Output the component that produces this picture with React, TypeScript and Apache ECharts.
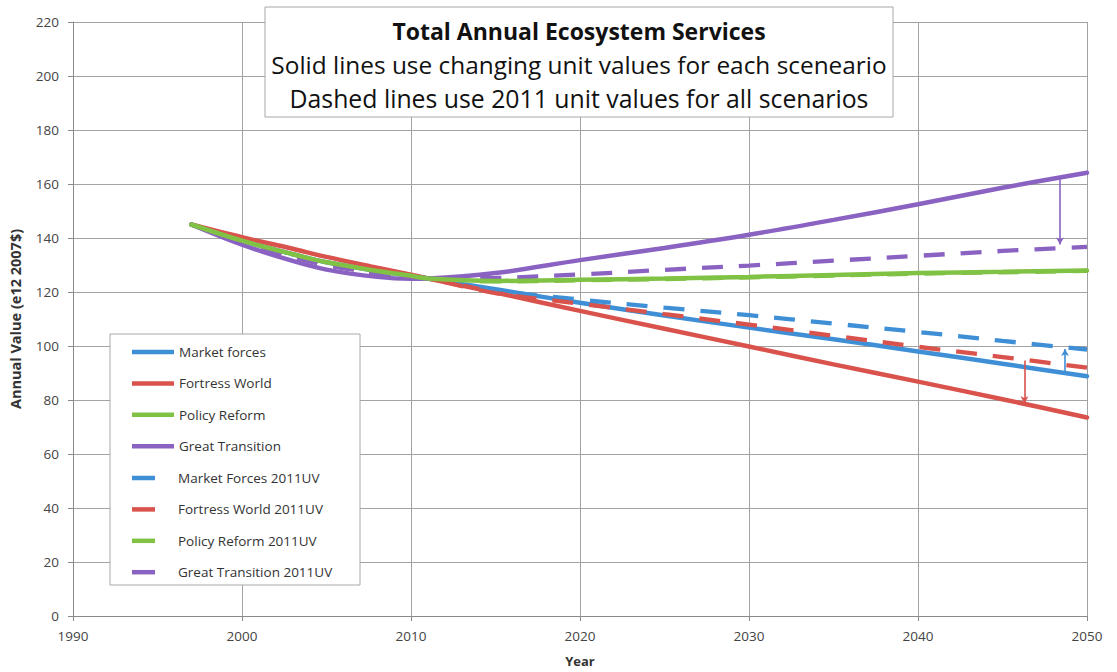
import React, { useEffect, useRef } from "react";
import * as echarts from "echarts";

const years = [1997, 2000, 2003, 2005, 2008, 2010, 2011, 2015, 2020, 2025, 2030, 2035, 2040, 2045, 2050];

const marketForces = [145, 139, 134, 131, 127.8, 126, 125, 121, 116, 111.3, 106.8, 102.5, 98, 93.4, 88.8];
const fortressWorld = [145, 140.3, 136, 133, 129, 126.4, 125, 119.8, 113, 106.4, 99.8, 93.2, 86.8, 80.3, 73.5];
const policyReform = [145, 139, 134, 131, 127.8, 126, 125, 124.1, 124.5, 125, 125.6, 126.3, 127, 127.5, 128];
const greatTransition = [145, 137.5, 131.5, 128.3, 125.6, 124.9, 125, 127, 131.8, 136.3, 141.2, 146.7, 152.5, 158.6, 164.2];

const marketForcesUV = [145, 138.5, 133.3, 130.2, 127.2, 125.7, 125, 120.6, 117.2, 114.2, 111.4, 108.3, 105.2, 101.9, 98.7];
const fortressWorldUV = [145, 138.5, 133.3, 130.2, 127.2, 125.7, 125, 119.6, 115.7, 111.8, 107.9, 103.8, 99.7, 95.9, 92];
const policyReformUV = [145, 138.5, 133.3, 130.2, 127.2, 125.7, 125, 123.9, 124.3, 124.8, 125.4, 126.1, 126.8, 127.3, 127.8];
const greatTransitionUV = [145, 138.2, 133, 130, 127, 125.6, 125, 125.2, 126.5, 128.2, 129.8, 131.6, 133.4, 135.2, 136.7];

// difference arrows: [year, from, to]
const arrowGT = [2048.4, 161.8, 137.6];
const arrowMF = [2048.7, 89.6, 98.9];
const arrowFW = [2046.3, 94.6, 78.8];

const xTicks = { min: 1990, max: 2050, interval: 10 };
const yTicks = { min: 0, max: 220, interval: 20 };

const titleLines = [
  "Total Annual Ecosystem Services",
  "Solid lines use changing unit values for each sceneario",
  "Dashed lines use 2011 unit values for all scenarios",
];

const solidNames = ["Market forces", "Fortress World", "Policy Reform", "Great Transition"];
const dashedNames = [
  "Market Forces 2011UV",
  "Fortress World 2011UV",
  "Policy Reform 2011UV",
  "Great Transition 2011UV",
];

const BLUE = "#3f8fd6";
const RED = "#d9534c";
const GREEN = "#80c244";
const PURPLE = "#8a62c2";

const FONT = "'Open Sans', Lato, sans-serif";

function toPairs(vals: number[]) {
  return years.map((y, i) => [y, vals[i]]);
}

function arrowMark(a: number[], color: string) {
  return {
    silent: true,
    symbol: ["none", "arrow"],
    symbolSize: [6, 7],
    label: { show: false },
    lineStyle: { color, width: 1.6, type: "solid" },
    data: [[{ coord: [a[0], a[1]] }, { coord: [a[0], a[2]] }]],
  };
}

export default function App() {
  const ref = useRef<HTMLDivElement>(null);

  useEffect(() => {
    if (!ref.current) return;
    const chart = echarts.init(ref.current, null, { renderer: "svg" });

    const solid = (name: string, vals: number[], color: string, extra: any = {}) => ({
      name,
      type: "line",
      data: toPairs(vals),
      smooth: 0.35,
      showSymbol: false,
      symbol: "none",
      color,
      lineStyle: { color, width: 4.5, type: "solid", cap: "round" },
      z: 3,
      ...extra,
    });
    const dashed = (name: string, vals: number[], color: string) => ({
      name,
      type: "line",
      data: toPairs(vals),
      smooth: 0.35,
      showSymbol: false,
      symbol: "none",
      color,
      lineStyle: { color, width: 4.3, type: [21, 16] },
      z: 4,
    });

    const legendText = { fontFamily: FONT, fontSize: 13.5, color: "#333", lineHeight: 14 };

    chart.setOption({
      animation: false,
      backgroundColor: "#ffffff",
      textStyle: { fontFamily: FONT },
      grid: { left: 67, right: 30, top: 22, bottom: 55, containLabel: false },
      xAxis: {
        type: "value",
        ...xTicks,
        name: "Year",
        nameLocation: "middle",
        nameGap: 38,
        nameTextStyle: { fontFamily: FONT, fontWeight: "bold", fontSize: 13, color: "#333" },
        axisLine: { show: true, lineStyle: { color: "#8a8a8a", width: 1 } },
        axisTick: { show: true, length: 5, lineStyle: { color: "#8a8a8a" } },
        axisLabel: { fontFamily: FONT, fontSize: 13.5, color: "#444", margin: 13, formatter: (v: number) => String(v) },
        splitLine: { show: true, lineStyle: { color: "#a3a3a3", width: 1 } },
      },
      yAxis: {
        type: "value",
        ...yTicks,
        name: "Annual Value (e12 2007$)",
        nameLocation: "middle",
        nameGap: 50,
        nameTextStyle: { fontFamily: FONT, fontWeight: "bold", fontSize: 14.5, color: "#333" },
        axisLine: { show: true, lineStyle: { color: "#8a8a8a", width: 1 } },
        axisTick: { show: true, length: 5, lineStyle: { color: "#8a8a8a" } },
        axisLabel: { fontFamily: FONT, fontSize: 13.5, color: "#444", margin: 14 },
        splitLine: { show: true, lineStyle: { color: "#a3a3a3", width: 1 } },
      },
      legend: [
        {
          data: solidNames,
          orient: "vertical",
          left: 127,
          top: 340,
          icon: "rect",
          itemWidth: 42,
          itemHeight: 4.5,
          itemGap: 17.4,
          z: 20,
          textStyle: legendText,
        },
        {
          data: dashedNames,
          orient: "vertical",
          left: 127,
          top: 466,
          icon: "rect",
          itemWidth: 23,
          itemHeight: 4.5,
          itemGap: 17.4,
          z: 20,
          textStyle: { ...legendText, padding: [0, 0, 0, 18] },
        },
      ],
      graphic: [
        {
          type: "rect",
          z: 10,
          shape: { x: 110, y: 334, width: 250, height: 251 },
          style: { fill: "#ffffff", stroke: "#a8a8a8", lineWidth: 1 },
        },
        {
          type: "rect",
          z: 10,
          shape: { x: 265, y: 7, width: 628, height: 110 },
          style: { fill: "#ffffff", stroke: "#a8a8a8", lineWidth: 1 },
        },
        {
          type: "text",
          z: 11,
          x: 579,
          y: 31,
          style: {
            text: titleLines[0],
            fontFamily: FONT,
            fontSize: 23,
            fontWeight: "bold",
            fill: "#111",
            align: "center",
            verticalAlign: "middle",
          },
        },
        {
          type: "text",
          z: 11,
          x: 579,
          y: 64,
          style: {
            text: titleLines[1],
            fontFamily: FONT,
            fontSize: 24.4,
            fill: "#111",
            align: "center",
            verticalAlign: "middle",
          },
        },
        {
          type: "text",
          z: 11,
          x: 579,
          y: 98,
          style: {
            text: titleLines[2],
            fontFamily: FONT,
            fontSize: 24.8,
            fill: "#111",
            align: "center",
            verticalAlign: "middle",
          },
        },
      ],
      series: [
        dashed(dashedNames[2], policyReformUV, GREEN),
        solid(solidNames[0], marketForces, BLUE, { markLine: arrowMark(arrowMF, BLUE) }),
        solid(solidNames[1], fortressWorld, RED, { markLine: arrowMark(arrowFW, RED) }),
        solid(solidNames[2], policyReform, GREEN, { z: 5 }),
        solid(solidNames[3], greatTransition, PURPLE, { markLine: arrowMark(arrowGT, PURPLE) }),
        dashed(dashedNames[0], marketForcesUV, BLUE),
        dashed(dashedNames[1], fortressWorldUV, RED),
        dashed(dashedNames[3], greatTransitionUV, PURPLE),
      ],
    });

    return () => chart.dispose();
  }, []);

  return (
    <div
      ref={ref}
      style={{ position: "absolute", left: 0, top: 0, width: 1117, height: 672 }}
    />
  );
}
